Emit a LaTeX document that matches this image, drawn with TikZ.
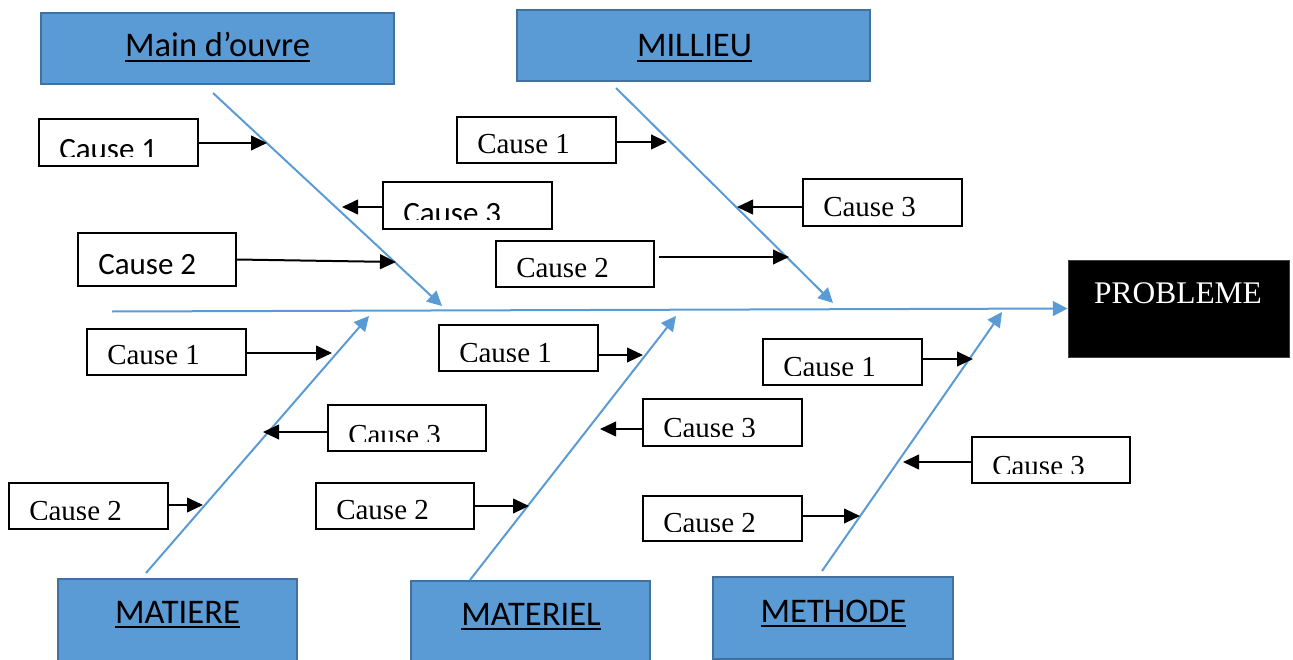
\documentclass[tikz,border=0pt]{standalone}
\usepackage{fontspec}
\setmainfont{Liberation Serif}
\newfontfamily\calibri{Carlito}
\usetikzlibrary{arrows.meta,fit}
\definecolor{fishblue}{HTML}{5B9BD5}
\definecolor{fishedge}{HTML}{41719C}
% thick underline for the category titles
\newcommand\ulbar[1]{\setbox0\hbox{#1}\rlap{\rule[-4.1pt]{\wd0}{1.9pt}}\box0}
% cause box: name, x1, y1, x2, y2, baseline, text (text clipped by the inner bottom margin)
\newcommand\causebox[7]{%
  \node[cbox, fit={(#2,#3) (#4,#5)}] (#1) {};
  \begin{scope}
    \clip (#2,#3) rectangle (#4,{#5-10});
    \node[ctext] (#1-t) at ({#2+20},#6) {#7};
  \end{scope}}
\tikzset{
  cbox/.style={draw=black, line width=0.9pt, inner sep=0pt, fill=white},
  cat/.style={draw=fishedge, fill=fishblue, line width=1.6pt, inner sep=0pt},
  cattext/.style={anchor=base, inner sep=0pt, font=\calibri\fontsize{25.9pt}{30pt}\selectfont},
  prob/.style={fill=black, draw=black!75, line width=0.6pt, inner sep=0pt},
  bone/.style={draw=fishblue, line width=1.5pt, -{Triangle[length=11pt,width=11pt]}},
  carrow/.style={draw=black, line width=1.5pt, -{Triangle[length=12pt,width=11pt]}},
  ctext/.style={anchor=base west, inner sep=0pt, font=\fontsize{21.75pt}{24pt}\selectfont},
}
\newcommand\calfont{\calibri\fontsize{23.25pt}{26pt}\selectfont}
\begin{document}
\begin{tikzpicture}[x=0.75pt,y=-0.75pt]
\clip (0,0) rectangle (1293,660);

% effect box
\node[prob, fit={(1068,260) (1289,357)}] (prob) {};
\node[anchor=base, inner sep=0pt, text=white, font=\fontsize{23.6pt}{27pt}\selectfont] (prob-t) at (1178,303) {PROBLEME};

% category boxes
\node[cat, fit={(41,13) (394,84)}] (mo) {};
\node[cattext] (mo-t) at (217.5,57) {\ulbar{Main d’ouvre}};
\node[cat, fit={(517,10) (870,81)}] (mi) {};
\node[cattext] (mi-t) at (694.5,57) {\ulbar{MILLIEU}};
\node[cat, fit={(58,579) (297,664)}] (ma) {};
\node[cattext] (ma-t) at (177.5,623) {\ulbar{MATIERE}};
\node[cat, fit={(411,581) (650,664)}] (mt) {};
\node[cattext] (mt-t) at (531,625) {\ulbar{MATERIEL}};
\node[cat, fit={(713,577) (953,659)}] (me) {};
\node[cattext] (me-t) at (833.5,622) {\ulbar{METHODE}};

% spine and bones
\coordinate (sp0) at (112,311.5);
\draw[bone] (sp0) -- (prob.west);
\coordinate (b1s) at (213,93);  \coordinate (b1t) at (442,306);
\coordinate (b2s) at (616,88);  \coordinate (b2t) at (833,303);
\coordinate (b3s) at (146,573); \coordinate (b3t) at (369,316);
\coordinate (b4s) at (470,580); \coordinate (b4t) at (676,316);
\coordinate (b5s) at (822,571); \coordinate (b5t) at (1002,312);
\draw[bone] (b1s) -- (b1t);
\draw[bone] (b2s) -- (b2t);
\draw[bone] (b3s) -- (b3t);
\draw[bone] (b4s) -- (b4t);
\draw[bone] (b5s) -- (b5t);

% causes: Main d'ouvre
\causebox{tl1}{39}{119}{198}{166}{159}{\calfont Cause 1}
\causebox{tl3}{383}{182}{552}{229}{223}{\calfont Cause 3}
\causebox{tl2}{78}{233}{236}{286}{274}{\calfont Cause 2}
% causes: Millieu
\causebox{tm1}{457}{117}{616}{163}{153}{Cause 1}
\causebox{tm3}{803}{179}{962}{226}{216}{Cause 3}
\causebox{tm2}{496}{241}{654}{287}{277}{Cause 2}
% causes: Matiere
\causebox{bl1}{87}{329}{246}{375}{364}{Cause 1}
\causebox{bl3}{328}{405}{486}{451}{444}{Cause 3}
\causebox{bl2}{9}{483}{168}{529}{520}{Cause 2}
% causes: Materiel
\causebox{bm1}{439}{325}{598}{371}{362}{Cause 1}
\causebox{bm3}{643}{399}{802}{446}{437}{Cause 3}
\causebox{bm2}{316}{483}{474}{529}{519}{Cause 2}
% causes: Methode
\causebox{br1}{763}{339}{922}{385}{376}{Cause 1}
\causebox{br3}{972}{437}{1130}{483}{475}{Cause 3}
\causebox{br2}{643}{496}{802}{541}{532}{Cause 2}

% cause arrows
\coordinate (tl1a) at (267,143); \draw[carrow] (tl1.east |- tl1a) -- (tl1a);
\coordinate (tl3a) at (342,207); \draw[carrow] (tl3.west |- tl3a) -- (tl3a);
\coordinate (tl2a) at (396,262); \draw[carrow] (tl2.east) -- (tl2a);
\coordinate (tm1a) at (667,142); \draw[carrow] (tm1.east |- tm1a) -- (tm1a);
\coordinate (tm3a) at (737,207); \draw[carrow] (tm3.west |- tm3a) -- (tm3a);
\coordinate (tm2a) at (789,257); \draw[carrow] ([xshift=3pt]tm2.east |- tm2a) -- (tm2a);
\coordinate (bl1a) at (332,353); \draw[carrow] (bl1.east |- bl1a) -- (bl1a);
\coordinate (bl3a) at (263,432); \draw[carrow] (bl3.west |- bl3a) -- (bl3a);
\coordinate (bl2a) at (203,505); \draw[carrow] (bl2.east |- bl2a) -- (bl2a);
\coordinate (bm1a) at (643,355); \draw[carrow] (bm1.east |- bm1a) -- (bm1a);
\coordinate (bm3a) at (600,429); \draw[carrow] (bm3.west |- bm3a) -- (bm3a);
\coordinate (bm2a) at (529,506); \draw[carrow] (bm2.east |- bm2a) -- (bm2a);
\coordinate (br1a) at (973,359); \draw[carrow] (br1.east |- br1a) -- (br1a);
\coordinate (br3a) at (903,462); \draw[carrow] (br3.west |- br3a) -- (br3a);
\coordinate (br2a) at (860,516); \draw[carrow] (br2.east |- br2a) -- (br2a);
\end{tikzpicture}
\end{document}
